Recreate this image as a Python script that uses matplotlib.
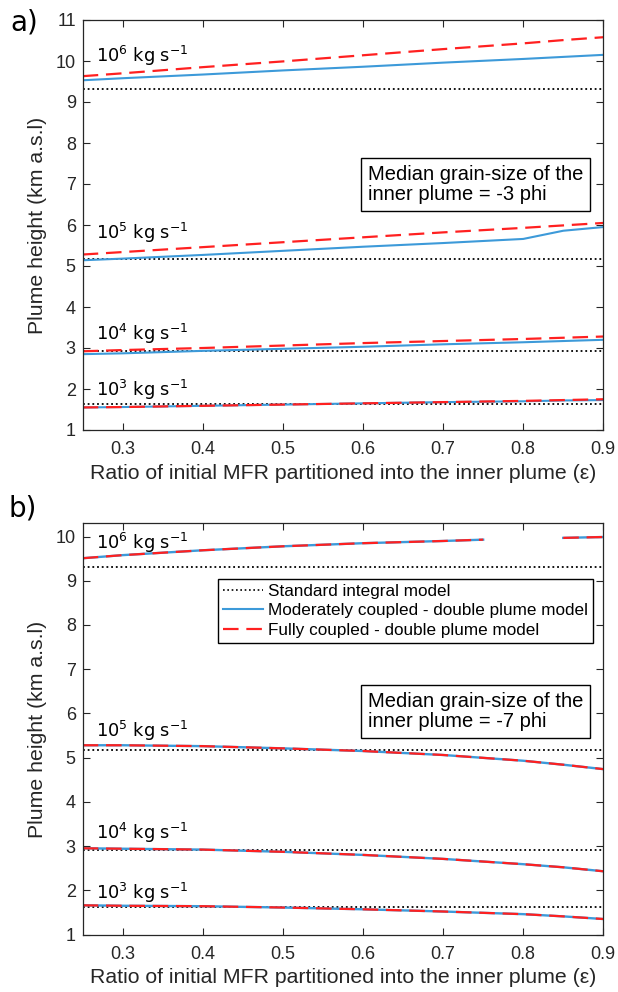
import matplotlib
matplotlib.use("Agg")
import matplotlib.pyplot as plt
from matplotlib.lines import Line2D

plt.rcParams['font.family'] = ['Liberation Sans', 'DejaVu Sans']

# ---------- data ----------
eps = [0.25, 0.3, 0.4, 0.5, 0.6, 0.7, 0.8, 0.85, 0.9]
mfr_labels = [r"10$^{6}$ kg s$^{-1}$", r"10$^{5}$ kg s$^{-1}$", r"10$^{4}$ kg s$^{-1}$", r"10$^{3}$ kg s$^{-1}$"]
standard_h = [9.32, 5.18, 2.92, 1.63]

# panel a (-3 phi)
a_mod_1e6 = [9.53, 9.58, 9.67, 9.77, 9.86, 9.96, 10.05, 10.10, 10.15]
a_full_1e6 = [9.63, 9.70, 9.85, 9.99, 10.14, 10.29, 10.43, 10.51, 10.58]
a_mod_1e5 = [5.14, 5.18, 5.27, 5.37, 5.47, 5.56, 5.66, 5.86, 5.95]
a_full_1e5 = [5.28, 5.34, 5.46, 5.58, 5.70, 5.82, 5.93, 5.99, 6.05]
a_mod_1e4 = [2.85, 2.87, 2.93, 2.98, 3.03, 3.09, 3.14, 3.17, 3.20]
a_full_1e4 = [2.92, 2.95, 3.00, 3.06, 3.12, 3.17, 3.22, 3.25, 3.28]
a_mod_1e3 = [1.55, 1.56, 1.59, 1.62, 1.65, 1.68, 1.70, 1.72, 1.73]
a_full_1e3 = [1.55, 1.56, 1.59, 1.62, 1.65, 1.68, 1.71, 1.73, 1.75]

# panel b (-7 phi)
b_eps_1e6_seg1 = [0.25, 0.3, 0.4, 0.5, 0.6, 0.7, 0.75]
b_1e6_seg1 = [9.51, 9.58, 9.69, 9.78, 9.85, 9.90, 9.93]
b_eps_1e6_seg2 = [0.85, 0.9]
b_1e6_seg2 = [9.97, 9.99]
b_1e5 = [5.28, 5.28, 5.26, 5.21, 5.15, 5.06, 4.93, 4.84, 4.74]
b_1e4 = [2.95, 2.94, 2.92, 2.87, 2.80, 2.71, 2.59, 2.52, 2.43]
b_1e3 = [1.66, 1.65, 1.64, 1.61, 1.57, 1.52, 1.46, 1.41, 1.35]

xticks = [0.3, 0.4, 0.5, 0.6, 0.7, 0.8, 0.9]

blue = '#3d9ad9'
red = '#ff2020'
dash = (0, (7, 3.5))
dots = (0, (1, 1.6))

W, H = 618, 992
fig = plt.figure(figsize=(W / 100, H / 100), dpi=100)
L, R = 82.7, 603.3
axa = fig.add_axes([L / W, 1 - 430 / H, (R - L) / W, 410 / H])
axb = fig.add_axes([L / W, 1 - 934.5 / H, (R - L) / W, 411.2 / H])


def style(ax, ylim, yticks):
    ax.set_xlim(0.25, 0.9)
    ax.set_ylim(*ylim)
    ax.set_xticks(xticks)
    ax.set_xticklabels([f"{t:.1f}" for t in xticks])
    ax.set_yticks(yticks)
    ax.tick_params(direction='in', top=True, right=True, labelsize=13, colors='#262626',
                   length=5, width=0.8)
    ax.tick_params(axis='x', pad=8)
    ax.tick_params(axis='y', pad=5)
    for s in ax.spines.values():
        s.set_color('#262626')
        s.set_linewidth(0.9)
    ax.set_xlabel("Ratio of initial MFR partitioned into the inner plume (\u03b5)", fontsize=15.3,
                  color='#262626', labelpad=4)
    ax.set_ylabel("Plume height (km a.s.l)", fontsize=15.3, color='#262626', labelpad=6)


def stdline(ax, y):
    ax.axhline(y, color='black', linestyle=dots, linewidth=1.3)


def box(x_px, y_px, txt):
    fig.text(x_px / W, 1 - y_px / H, txt, fontsize=14.5, va='top', ha='left', linespacing=1.08,
             transform=fig.transFigure,
             bbox=dict(boxstyle='square,pad=0.35', facecolor='white', edgecolor='black', linewidth=1))


# panel a
for h in standard_h:
    stdline(axa, h)
for m, f in [(a_mod_1e6, a_full_1e6), (a_mod_1e5, a_full_1e5), (a_mod_1e4, a_full_1e4), (a_mod_1e3, a_full_1e3)]:
    axa.plot(eps, m, color=blue, linewidth=1.5)
    axa.plot(eps, f, color=red, linewidth=1.6, linestyle=dash)
style(axa, (1, 11), range(1, 12))
lab_y_a = [9.98, 5.65, 3.2, 1.84]
for lab, y in zip(mfr_labels, lab_y_a):
    axa.text(0.266, y, lab, fontsize=12.8, family='DejaVu Sans', va='baseline', ha='left')
box(368, 165, "Median grain-size of the\ninner plume = -3 phi")
fig.text(24 / W, 1 - 23 / H, "a)", fontsize=20, family='DejaVu Sans', va='center', ha='center')

# panel b
for h in standard_h:
    stdline(axb, h)
for xs, ys in [(b_eps_1e6_seg1, b_1e6_seg1), (b_eps_1e6_seg2, b_1e6_seg2),
               (eps, b_1e5), (eps, b_1e4), (eps, b_1e3)]:
    axb.plot(xs, ys, color=blue, linewidth=1.7)
    axb.plot(xs, ys, color=red, linewidth=1.6, linestyle=dash)
style(axb, (1, 10.3), range(1, 11))
lab_y_b = [9.72, 5.47, 3.15, 1.81]
for lab, y in zip(mfr_labels, lab_y_b):
    axb.text(0.266, y, lab, fontsize=12.8, family='DejaVu Sans', va='baseline', ha='left')
box(368, 692, "Median grain-size of the\ninner plume = -7 phi")

handles = [Line2D([], [], color='black', linestyle=dots, linewidth=1.2),
           Line2D([], [], color=blue, linewidth=1.5),
           Line2D([], [], color=red, linewidth=1.6, linestyle=dash)]
axb.legend(handles, ["Standard integral model", "Moderately coupled - double plume model",
                     "Fully coupled - double plume model"],
           loc='upper right', bbox_to_anchor=(593 / W, 1 - 579 / H), bbox_transform=fig.transFigure,
           borderaxespad=0, fontsize=12.3, frameon=True, fancybox=False, framealpha=1,
           edgecolor='black', handlelength=2.3, handletextpad=0.3, borderpad=0.3, labelspacing=0.25)
fig.text(23 / W, 1 - 509 / H, "b)", fontsize=20, family='DejaVu Sans', va='center', ha='center')

fig.savefig("out.png", dpi=100)
